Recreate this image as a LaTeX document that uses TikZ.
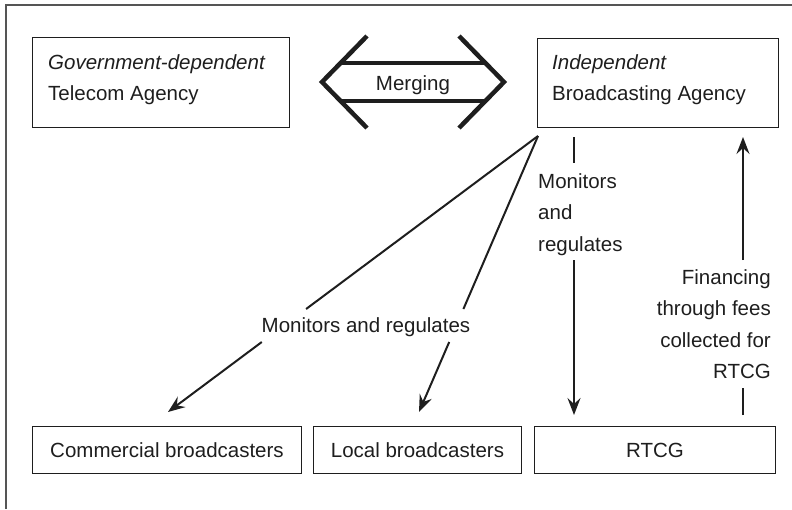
\documentclass[tikz,border=0pt]{standalone}
\usepackage{fontspec}
\setmainfont{Liberation Sans}
\usetikzlibrary{arrows.meta}
\definecolor{ink}{HTML}{1E1E1E}
\definecolor{framegray}{HTML}{555555}
\begin{document}
\begin{tikzpicture}[x=1pt,y=-1pt,
  box/.style={draw=ink, line width=1pt, anchor=north west, inner sep=0pt, text=ink,
              font=\fontsize{20.5}{24}\selectfont},
  txt/.style={inner sep=0pt, text=ink, font=\fontsize{20.5}{24}\selectfont},
  conn/.style={draw=ink, line width=2pt},
  arr/.style={conn, -{Stealth[length=17pt,width=13pt,inset=6pt]}},
  merge/.style={draw=ink, line width=4.5pt, line join=miter}]
\useasboundingbox (0,0) rectangle (792,509);
% outer frame
\draw[framegray, line width=1.2pt] (6,509) -- (6,5) -- (792,5);

% boxes
\node[box, minimum width=257pt, minimum height=90pt] (tel) at (32,37) {};
\node[box, minimum width=241pt, minimum height=89pt] (ba) at (537,38) {};
\node[box, minimum width=269pt, minimum height=47pt] (com) at (32,426) {Commercial broadcasters};
\node[box, minimum width=208pt, minimum height=47pt] (loc) at (313,426) {Local broadcasters};
\node[box, minimum width=241pt, minimum height=47pt] (rtcg) at (534,426) {RTCG};

% box texts
\node[txt, anchor=base west] (tel1) at (48,69) {\itshape Government-dependent};
\node[txt, anchor=base west] (tel2) at (48,100.5) {Telecom Agency};
\node[txt, anchor=base west] (ba1) at (552,69) {\itshape Independent};
\node[txt, anchor=base west] (ba2) at (552,100.5) {Broadcasting Agency};

% merging double arrow
\coordinate (mL) at (322,82);
\coordinate (mR) at (504,82);
\coordinate (mLa) at (367,36);
\coordinate (mLb) at (367,128);
\coordinate (mRa) at (459,36);
\coordinate (mRb) at (459,128);
\coordinate (s1a) at (341,63);
\coordinate (s1b) at (485,63);
\coordinate (s2a) at (341,101);
\coordinate (s2b) at (485,101);
\draw[merge] (mLa) -- (mL) -- (mLb);
\draw[merge] (mRa) -- (mR) -- (mRb);
\draw[merge] (s1a) -- (s1b);
\draw[merge] (s2a) -- (s2b);
\node[txt, anchor=base] (merging) at (413,90) {Merging};

% diagonal monitors and regulates
\coordinate (src) at (538,136);
\coordinate (c1) at (306.1,309);
\coordinate (c2) at (261.8,342);
\coordinate (ctip) at (168,412);
\coordinate (l1) at (463.4,309);
\coordinate (l2) at (449.2,342);
\coordinate (ltip) at (419,412);
\draw[conn] (src) -- (c1);
\draw[arr] (c2) -- (ctip);
\draw[conn] (src) -- (l1);
\draw[arr] (l2) -- (ltip);
\node[txt, anchor=base] (mr) at (366,332) {Monitors and regulates};

% vertical monitors and regulates
\coordinate (v1) at (574,137);
\coordinate (v2) at (574,163);
\coordinate (v3) at (574,260);
\coordinate (v4) at (574,415);
\draw[conn] (v1) -- (v2);
\draw[arr] (v3) -- (v4);
\node[txt, anchor=base west] (mv1) at (538,188) {Monitors};
\node[txt, anchor=base west] (mv2) at (538,219.5) {and};
\node[txt, anchor=base west] (mv3) at (538,251) {regulates};

% financing
\coordinate (f1) at (743,415);
\coordinate (f2) at (743,388);
\coordinate (f3) at (743,260);
\coordinate (f4) at (743,137);
\draw[conn] (f1) -- (f2);
\draw[arr] (f3) -- (f4);
\node[txt, anchor=base east] (fin1) at (771,284) {Financing};
\node[txt, anchor=base east] (fin2) at (771,315.5) {through fees};
\node[txt, anchor=base east] (fin3) at (771,347) {collected for};
\node[txt, anchor=base east] (fin4) at (771,378.5) {RTCG};
\end{tikzpicture}
\end{document}
